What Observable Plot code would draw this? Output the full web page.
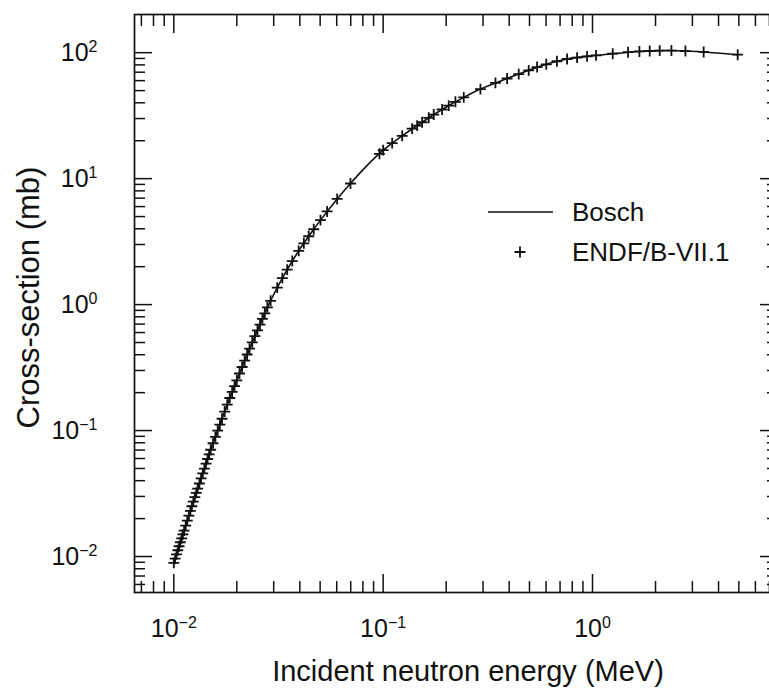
<!DOCTYPE html>
<html><head><meta charset="utf-8">
<script src="https://cdn.jsdelivr.net/npm/d3@7"></script>
<script src="https://cdn.jsdelivr.net/npm/@observablehq/plot@0.6"></script>
<style>
html,body{margin:0;padding:0;background:#fff;}
#chart{width:769px;height:691px;overflow:hidden;}
</style>
</head><body><div id="chart"></div>
<script>
// ENDF/B-VII.1 points (MeV, mb)
const endfEnergy = [
  0.01000, 0.01015, 0.01030, 0.01045, 0.01060, 0.01075, 0.01090, 0.01105, 0.01120, 0.01140,
  0.01160, 0.01180, 0.01200, 0.01220, 0.01240, 0.01260, 0.01280, 0.01300, 0.01325, 0.01350,
  0.01375, 0.01400, 0.01425, 0.01450, 0.01475, 0.01500,
  0.0154, 0.0158, 0.0162, 0.0166, 0.0170, 0.0175, 0.0180, 0.0185, 0.0190, 0.0195,
  0.0200, 0.0206, 0.0212, 0.0218, 0.0224, 0.0230, 0.0237, 0.0244, 0.0251, 0.0258,
  0.0265, 0.0272, 0.0280,
  0.0290, 0.0312, 0.0330, 0.0348, 0.0368, 0.0395, 0.0418, 0.0441, 0.0466, 0.0502,
  0.0540, 0.0603, 0.0698,
  0.0960, 0.1000, 0.1104, 0.1233, 0.1375, 0.1454, 0.1535, 0.1651, 0.1744, 0.1913,
  0.2057, 0.2214, 0.2426, 0.2915, 0.3439, 0.3910, 0.4442, 0.4958, 0.5437, 0.6015,
  0.6761, 0.7562, 0.8441, 0.9423, 1.040, 1.249, 1.479, 1.675, 1.876, 2.094,
  2.382, 2.778, 3.396, 4.937
];
const endfSigma = [
  0.00891, 0.00963, 0.01039, 0.01121, 0.01207, 0.01298, 0.01395, 0.01498, 0.01606, 0.01761,
  0.01928, 0.02108, 0.02300, 0.02506, 0.02728, 0.02960, 0.03201, 0.03457, 0.03800, 0.04170,
  0.04567, 0.04995, 0.05455, 0.05948, 0.06476, 0.07039,
  0.07931, 0.08909, 0.09979, 0.1114, 0.1241, 0.1416, 0.1608, 0.1814, 0.2026, 0.2257,
  0.2507, 0.2837, 0.3196, 0.3588, 0.4018, 0.4472, 0.5017, 0.5610, 0.6252, 0.6946,
  0.7695, 0.8505, 0.9504,
  1.072, 1.363, 1.623, 1.897, 2.218, 2.670, 3.067, 3.488, 3.966, 4.686,
  5.489, 6.899, 9.155,
  15.75, 16.83, 19.14, 21.88, 24.95, 26.36, 28.05, 30.41, 32.28, 35.40,
  38.02, 40.74, 44.16, 51.40, 57.54, 62.37, 67.61, 72.44, 76.91, 80.91,
  85.51, 89.13, 91.41, 93.54, 95.28, 98.18, 100.9, 102.3, 103.0, 103.8,
  104.0, 103.0, 101.4, 96.4
];
// Bosch parametrisation curve (MeV, mb)
const boschEnergy = [
  0.0100, 0.0110, 0.0120, 0.0130, 0.0140, 0.0150, 0.0166, 0.0180, 0.0200, 0.0224,
  0.0251, 0.0280, 0.0312, 0.0348, 0.0395, 0.0441, 0.0502, 0.0603, 0.0698, 0.0830,
  0.1000, 0.1233, 0.1535, 0.1913, 0.2426, 0.2915, 0.3910, 0.4958, 0.6015, 0.7562,
  0.9423, 1.249, 1.675, 2.094, 2.382, 2.778, 3.396, 4.937
];
const boschSigma = [
  0.00891, 0.01463, 0.02300, 0.03457, 0.04995, 0.07039, 0.1114, 0.1608, 0.2507, 0.4018,
  0.6252, 0.9504, 1.363, 1.897, 2.670, 3.488, 4.686, 6.899, 9.155, 12.51,
  16.83, 21.88, 28.05, 35.40, 44.16, 51.40, 62.37, 72.44, 80.91, 89.13,
  93.54, 98.18, 102.3, 103.8, 104.0, 103.0, 101.4, 96.4
];

const xMajorTicks = [0.01, 0.1, 1];
const xMinorTicks = [0.007, 0.008, 0.009, 0.02, 0.03, 0.04, 0.05, 0.06, 0.07, 0.08, 0.09,
  0.2, 0.3, 0.4, 0.5, 0.6, 0.7, 0.8, 0.9, 2, 3, 4, 5, 6, 7];
const yMajorTicks = [0.01, 0.1, 1, 10, 100];
const yMinorTicks = [0.006, 0.007, 0.008, 0.009, 0.02, 0.03, 0.04, 0.05, 0.06, 0.07, 0.08, 0.09,
  0.2, 0.3, 0.4, 0.5, 0.6, 0.7, 0.8, 0.9, 2, 3, 4, 5, 6, 7, 8, 9,
  20, 30, 40, 50, 60, 70, 80, 90];
const xTickLabels = ["10^\u22122", "10^\u22121", "10^0"];
const yTickLabels = ["10^\u22122", "10^\u22121", "10^0", "10^1", "10^2"];
const xTitle = "Incident neutron energy (MeV)";
const yTitle = "Cross-section (mb)";
const legendLabels = ["Bosch", "ENDF/B-VII.1"];
const xDomain = [0.00649, 7.65];
const yDomain = [0.00518, 201];

const ink = "#111";
const font = "'Liberation Sans', Arial, Helvetica, sans-serif";
const endf = endfEnergy.map((e, i) => ({e, s: endfSigma[i]}));
const bosch = boschEnergy.map((e, i) => ({e, s: boschSigma[i]}));

const plot = Plot.plot({
  width: 769, height: 691,
  marginLeft: 134, marginRight: -8, marginTop: 14, marginBottom: 99,
  style: {fontFamily: font, background: "#fff", color: ink},
  x: {type: "log", domain: xDomain},
  y: {type: "log", domain: yDomain},
  marks: [
    Plot.line(bosch, {x: "e", y: "s", stroke: ink, strokeWidth: 1.6, curve: "catmull-rom"}),
    Plot.dot(endf, {x: "e", y: "s", symbol: "plus", r: 3.6, stroke: ink, strokeWidth: 1.8}),
    Plot.frame({stroke: ink, strokeWidth: 1.7}),
    // inward ticks, four sides
    Plot.axisX(xMajorTicks, {anchor: "bottom", tickSize: -18, fill: "none", label: null, stroke: ink, strokeWidth: 1.5}),
    Plot.axisX(xMinorTicks, {anchor: "bottom", tickSize: -11, fill: "none", label: null, stroke: ink, strokeWidth: 1.5}),
    Plot.axisX(xMajorTicks, {anchor: "top", tickSize: -18, fill: "none", label: null, stroke: ink, strokeWidth: 1.5}),
    Plot.axisX(xMinorTicks, {anchor: "top", tickSize: -11, fill: "none", label: null, stroke: ink, strokeWidth: 1.5}),
    Plot.axisY(yMajorTicks, {anchor: "left", tickSize: -18, fill: "none", label: null, stroke: ink, strokeWidth: 1.5}),
    Plot.axisY(yMinorTicks, {anchor: "left", tickSize: -11, fill: "none", label: null, stroke: ink, strokeWidth: 1.5}),
    Plot.axisY(yMajorTicks, {anchor: "right", tickSize: -18, fill: "none", label: null, stroke: ink, strokeWidth: 1.5}),
    Plot.axisY(yMinorTicks, {anchor: "right", tickSize: -11, fill: "none", label: null, stroke: ink, strokeWidth: 1.5}),
    // tick labels
    Plot.axisX(xMajorTicks, {anchor: "bottom", tickSize: 0, tickPadding: 27, fontSize: 25, fill: ink, label: null,
      tickFormat: d => xTickLabels[xMajorTicks.indexOf(d)]}),
    Plot.axisY(yMajorTicks, {anchor: "left", tickSize: 0, tickPadding: 37, fontSize: 25, fill: ink, label: null,
      tickFormat: d => yTickLabels[yMajorTicks.indexOf(d)]}),
    // axis titles
    Plot.text([xTitle], {text: d => d, frameAnchor: "bottom", lineAnchor: "middle", textAnchor: "middle",
      dy: 79, dx: 12, fontSize: 29, fill: ink}),
    Plot.text([yTitle], {text: d => d, frameAnchor: "left", lineAnchor: "middle", textAnchor: "middle",
      dx: -105, dy: -6, rotate: -90, fontSize: 31, fill: ink})
  ]
});

// superscript exponents in tick labels
const ns = "http://www.w3.org/2000/svg";
plot.querySelectorAll("text").forEach(t => {
  const m = t.textContent.match(/^10\^(.+)$/);
  if (m) {
    t.textContent = "10";
    const ts = document.createElementNS(ns, "tspan");
    ts.setAttribute("dy", "-9");
    ts.setAttribute("font-size", "16");
    ts.textContent = m[1];
    t.appendChild(ts);
  }
});

// legend
const svg = d3.select(plot);
const lg = svg.append("g").attr("font-family", font).attr("font-size", 26)
  .attr("fill", ink).attr("text-anchor", "start");
lg.append("line").attr("x1", 488).attr("x2", 553).attr("y1", 212).attr("y2", 212)
  .attr("stroke", ink).attr("stroke-width", 1.6);
lg.append("text").attr("x", 572).attr("y", 212).attr("dy", "0.36em").text(legendLabels[0]);
lg.append("path").attr("transform", "translate(520,252)")
  .attr("d", d3.symbol(d3.symbolPlus, Math.PI * 3.6 * 3.6)())
  .attr("fill", "none").attr("stroke", ink).attr("stroke-width", 1.8);
lg.append("text").attr("x", 572).attr("y", 252).attr("dy", "0.36em").text(legendLabels[1]);

document.getElementById("chart").appendChild(plot);
</script>
</body></html>
